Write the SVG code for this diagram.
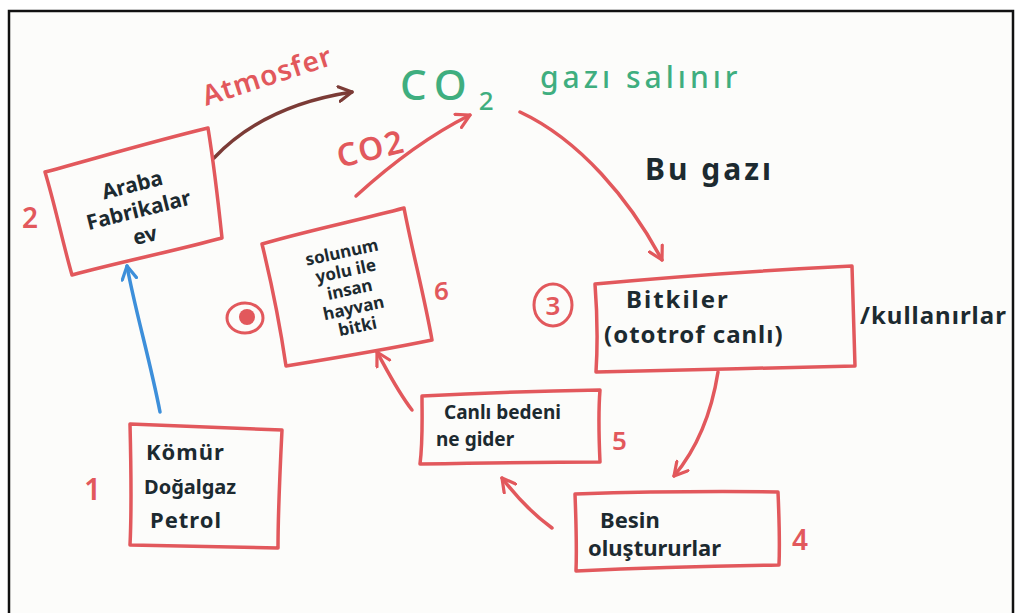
<svg xmlns="http://www.w3.org/2000/svg" width="1016" height="613" viewBox="0 0 1016 613">
<style>
.box{fill:none;stroke:#e2585c;stroke-width:3.5;stroke-linejoin:round;stroke-linecap:round}
.con{fill:none;stroke-width:3.5;stroke-linecap:round}
.red{stroke:#e2585c}
.t{font-family:"Noto Sans","Liberation Sans",sans-serif;font-weight:700;fill:#1c2a30}
.num{font-family:"Noto Sans","Liberation Sans",sans-serif;font-weight:600;fill:#e2585c}
.grn{font-family:"Noto Sans","Liberation Sans",sans-serif;font-weight:500;fill:#3fae7f}
</style>
<defs>
<marker id="aR" viewBox="0 0 12 12" refX="10" refY="6" markerWidth="5" markerHeight="5" orient="auto" markerUnits="strokeWidth">
<path d="M1,1 L10,6 L1,11" fill="none" stroke="#e2585c" stroke-width="2.2" stroke-linecap="round" stroke-linejoin="round"/>
</marker>
<marker id="aB" viewBox="0 0 12 12" refX="10" refY="6" markerWidth="5" markerHeight="5" orient="auto" markerUnits="strokeWidth">
<path d="M1,1 L10,6 L1,11" fill="none" stroke="#7b3b36" stroke-width="2.2" stroke-linecap="round" stroke-linejoin="round"/>
</marker>
<marker id="aL" viewBox="0 0 12 12" refX="10" refY="6" markerWidth="5" markerHeight="5" orient="auto" markerUnits="strokeWidth">
<path d="M1,1 L10,6 L1,11" fill="none" stroke="#3d8fda" stroke-width="2.2" stroke-linecap="round" stroke-linejoin="round"/>
</marker>
<clipPath id="frame"><rect x="9" y="11" width="1003" height="610"/></clipPath>
</defs>
<rect x="0" y="0" width="1016" height="613" fill="#ffffff"/>
<rect x="9" y="11" width="1004" height="610" fill="#fcfcfa" stroke="#111" stroke-width="2.5"/>

<g id="connectors">
<path class="con" stroke="#7b3b36" d="M214,158 C250,120 300,100 352,92" marker-end="url(#aB)"/>
<path class="con red" d="M356,196 C390,165 430,135 470,115" marker-end="url(#aR)"/>
<path class="con red" d="M520,112 C580,140 630,200 662,260" marker-end="url(#aR)"/>
<path class="con red" d="M718,372 C712,410 700,445 674,476" marker-end="url(#aR)"/>
<path class="con red" d="M552,528 C530,512 515,495 502,478" marker-end="url(#aR)"/>
<path class="con red" d="M412,410 C398,392 388,372 377,352" marker-end="url(#aR)"/>
<path class="con" stroke="#3d8fda" d="M160,412 C150,360 135,310 127,266" marker-end="url(#aL)"/>
</g>

<g id="labels">
<text class="num" font-size="28" letter-spacing="1" transform="translate(206,106) rotate(-18)">Atmosfer</text>
<text class="num" font-size="32" letter-spacing="2" transform="translate(340,168) rotate(-14)">CO2</text>
<text class="grn" font-size="42" letter-spacing="8" x="400" y="100">CO<tspan font-size="26" dy="10" dx="4" letter-spacing="0">2</tspan></text>
<text class="grn" font-size="30" letter-spacing="4" x="540" y="88">gazı salınır</text>
<text class="t" font-size="30" letter-spacing="3" x="645" y="180">Bu gazı</text>
</g>

<g id="node-araba">
<path class="box" d="M45,172 C90,160 150,142 208,128 C214,165 218,200 222,238 C170,252 120,262 72,275 C62,240 55,205 45,172 Z"/>
<text class="t" font-size="21" text-anchor="middle" transform="translate(134,192) rotate(-14)">Araba<tspan x="0" dy="26">Fabrikalar</tspan><tspan x="0" dy="26">ev</tspan></text>
<text class="num" font-size="28" x="22" y="228">2</text>
</g>

<g id="node-solunum">
<path class="box" d="M262,244 C310,230 360,220 404,208 C412,250 424,295 432,340 C384,350 335,358 286,366 C280,325 272,285 262,244 Z"/>
<text class="t" font-size="17" text-anchor="middle" transform="translate(343,258) rotate(-12)">solunum<tspan x="0" dy="19">yolu ile</tspan><tspan x="0" dy="19">insan</tspan><tspan x="0" dy="19">hayvan</tspan><tspan x="0" dy="19">bitki</tspan></text>
<text class="num" font-size="26" x="434" y="300">6</text>
<ellipse cx="245" cy="318" rx="18" ry="15" fill="none" stroke="#e2585c" stroke-width="3"/>
<circle cx="247" cy="317" r="8" fill="#e2585c"/>
</g>

<g id="node-bitkiler">
<path class="box" d="M595,284 C680,276 770,270 852,266 C853,300 854,335 855,366 C770,368 680,370 596,372 C598,340 597,310 595,284 Z"/>
<text class="t" font-size="24" letter-spacing="2" x="626" y="308">Bitkiler</text>
<text class="t" font-size="24" letter-spacing="1" x="604" y="343">(ototrof canlı)</text>
<ellipse cx="553" cy="305" rx="19" ry="21" fill="none" stroke="#e2585c" stroke-width="3"/>
<text class="num" font-size="26" x="553" y="315" text-anchor="middle">3</text>
<text class="t" font-size="24" letter-spacing="1" x="860" y="324" clip-path="url(#frame)">/kullanırlar</text>
</g>

<g id="node-canli">
<path class="box" d="M422,396 C480,393 540,391 600,390 C598,415 599,440 600,462 C540,462 480,463 420,464 C423,440 422,418 422,396 Z"/>
<text class="t" font-size="19" x="444" y="419">Canlı bedeni</text>
<text class="t" font-size="19" x="436" y="446">ne gider</text>
<text class="num" font-size="26" x="612" y="450">5</text>
</g>

<g id="node-besin">
<path class="box" d="M575,494 C640,492 710,491 778,492 C779,515 780,540 779,565 C710,566 640,568 576,571 C577,545 576,520 575,494 Z"/>
<text class="t" font-size="22" x="600" y="528">Besin</text>
<text class="t" font-size="22" x="588" y="556">oluştururlar</text>
<text class="num" font-size="28" x="792" y="550">4</text>
</g>

<g id="node-komur">
<path class="box" d="M130,424 C180,426 230,428 282,430 C280,470 278,510 278,548 C230,547 180,546 130,545 C132,505 131,465 130,424 Z"/>
<text class="t" font-size="22" letter-spacing="1" x="146" y="460">Kömür</text>
<text class="t" font-size="20" x="144" y="494">Doğalgaz</text>
<text class="t" font-size="22" letter-spacing="1" x="150" y="528">Petrol</text>
<text class="num" font-size="30" x="84" y="500">1</text>
</g>
</svg>
